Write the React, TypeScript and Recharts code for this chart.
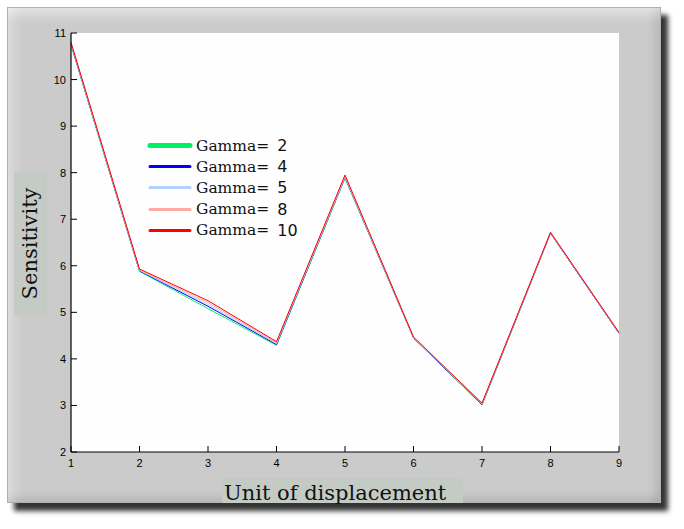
import { LineChart, Line, XAxis, YAxis, CartesianGrid, Legend, Label } from 'recharts'

const xValues = [1, 2, 3, 4, 5, 6, 7, 8, 9]
const gamma2 = [10.74, 5.88, 5.08, 4.29, 7.88, 4.45, 3.01, 6.7, 4.55]
const gamma4 = [10.76, 5.89, 5.13, 4.31, 7.9, 4.45, 3.02, 6.7, 4.55]
const gamma5 = [10.77, 5.9, 5.17, 4.33, 7.91, 4.46, 3.03, 6.71, 4.56]
const gamma8 = [10.78, 5.91, 5.21, 4.35, 7.92, 4.46, 3.04, 6.71, 4.56]
const gamma10 = [10.8, 5.93, 5.25, 4.37, 7.95, 4.47, 3.05, 6.72, 4.57]

const xTicks = [1, 2, 3, 4, 5, 6, 7, 8, 9]
const yTicks = [2, 3, 4, 5, 6, 7, 8, 9, 10, 11]

const seriesKeys = ['g2', 'g4', 'g5', 'g8', 'g10']
const seriesLabels = ['2', '4', '5', '8', '10']
const seriesColors = ['#00f064', '#0000ff', '#b4d0ff', '#ffaaa0', '#ff0000']

const data = xValues.map((x, i) => ({
  x,
  g2: gamma2[i],
  g4: gamma4[i],
  g5: gamma5[i],
  g8: gamma8[i],
  g10: gamma10[i],
}))

const X_MARGIN = 10
const Y_MARGIN = 5
const tickFont = '"Liberation Sans", Arial, sans-serif'
const serif = '"DejaVu Serif", serif'

function XTick(props: any) {
  const { x, y, payload } = props
  const axisY = y - X_MARGIN
  return (
    <g>
      <line x1={x} y1={axisY} x2={x} y2={axisY - 6} stroke="#000" />
      <text x={x} y={y + 5} textAnchor="middle" fontFamily={tickFont} fontSize={11} fill="#000">
        {payload.value}
      </text>
    </g>
  )
}

function YTick(props: any) {
  const { x, y, payload } = props
  const axisX = x + Y_MARGIN
  return (
    <g>
      <line x1={axisX} y1={y} x2={axisX + 6} y2={y} stroke="#000" />
      <text x={x} y={y + 4} textAnchor="end" fontFamily={tickFont} fontSize={11} fill="#000">
        {payload.value}
      </text>
    </g>
  )
}

function XLabel(props: any) {
  const { x, width } = props.viewBox
  const cx = x + width / 2
  return (
    <g>
      <rect x={cx - 123} y={478} width={241} height={25} fill="#c4cbc4" />
      <text x={cx - 121} y={500} fontFamily={serif} fontSize={21} fill="#111">
        Unit of displacement
      </text>
    </g>
  )
}

function YLabel(props: any) {
  const { y, height } = props.viewBox
  const cy = y + height / 2
  return (
    <g>
      <rect x={14} y={cy - 71} width={33} height={144} fill="#c4cbc4" />
      <text
        x={37}
        y={cy + 1}
        textAnchor="middle"
        fontFamily={serif}
        fontSize={21}
        fill="#111"
        transform={`rotate(-90, 37, ${cy + 1})`}
      >
        Sensitivity
      </text>
    </g>
  )
}

function renderLegend() {
  return (
    <div style={{ position: 'relative', width: 170, height: 108 }}>
      {seriesKeys.map((k, i) => (
        <div
          key={k}
          style={{
            position: 'absolute',
            left: 0,
            top: i * 21.2,
            height: 21,
            display: 'flex',
            alignItems: 'center',
            whiteSpace: 'nowrap',
          }}
        >
          <svg width={46} height={21} style={{ display: 'block' }}>
            <line
              x1={3}
              y1={10.5}
              x2={43}
              y2={10.5}
              stroke={seriesColors[i]}
              strokeWidth={i === 0 ? 5 : 3}
              strokeLinecap="round"
            />
          </svg>
          <span style={{ fontFamily: serif, fontSize: 15.5, color: '#111', marginLeft: 3 }}>Gamma=</span>
          <span style={{ fontFamily: '"DejaVu Sans", sans-serif', fontSize: 16, color: '#111', marginLeft: 8 }}>
            {seriesLabels[i]}
          </span>
        </div>
      ))}
    </div>
  )
}

export default function App() {
  return (
    <div style={{ position: 'absolute', left: 0, top: 0, width: 684, height: 529, background: '#fff' }}>
      <div
        style={{
          position: 'absolute',
          left: 7,
          top: 7,
          width: 654,
          height: 496,
          background: '#cbcbcb',
          boxSizing: 'border-box',
          border: '1px solid #b0b0b0',
          boxShadow:
            '7px 8px 5px rgba(0,0,0,0.8), inset 0 14px 12px -8px rgba(255,255,255,0.5), inset 14px 0 12px -8px rgba(255,255,255,0.35), inset 0 -12px 10px -8px rgba(0,0,0,0.12), inset -12px 0 10px -8px rgba(0,0,0,0.12)',
        }}
      />
      <div style={{ position: 'absolute', left: 0, top: 0 }}>
        <LineChart width={684} height={529} data={data} margin={{ top: 33, right: 65, bottom: 47, left: 41 }}>
          <CartesianGrid horizontal={false} vertical={false} fill="#fefefe" stroke="none" />
          <XAxis
            dataKey="x"
            type="number"
            domain={[1, 9]}
            ticks={xTicks}
            interval={0}
            height={30}
            tickSize={0}
            tickMargin={X_MARGIN}
            tickLine={false}
            axisLine={{ stroke: '#000', strokeWidth: 1.2 }}
            tick={<XTick />}
          >
            <Label content={<XLabel />} />
          </XAxis>
          <YAxis
            type="number"
            domain={[2, 11]}
            ticks={yTicks}
            interval={0}
            width={30}
            tickSize={0}
            tickMargin={Y_MARGIN}
            tickLine={false}
            axisLine={{ stroke: '#000', strokeWidth: 1.2 }}
            tick={<YTick />}
          >
            <Label content={<YLabel />} />
          </YAxis>
          <Legend
            layout="vertical"
            align="center"
            verticalAlign="middle"
            content={renderLegend}
            wrapperStyle={{ position: 'absolute', left: 147, top: 135, width: 170, height: 108 }}
          />
          {seriesKeys.map((k, i) => (
            <Line
              key={k}
              dataKey={k}
              name={`Gamma= ${seriesLabels[i]}`}
              type="linear"
              stroke={seriesColors[i]}
              strokeWidth={1}
              dot={false}
              activeDot={false}
              isAnimationActive={false}
            />
          ))}
        </LineChart>
      </div>
    </div>
  )
}
